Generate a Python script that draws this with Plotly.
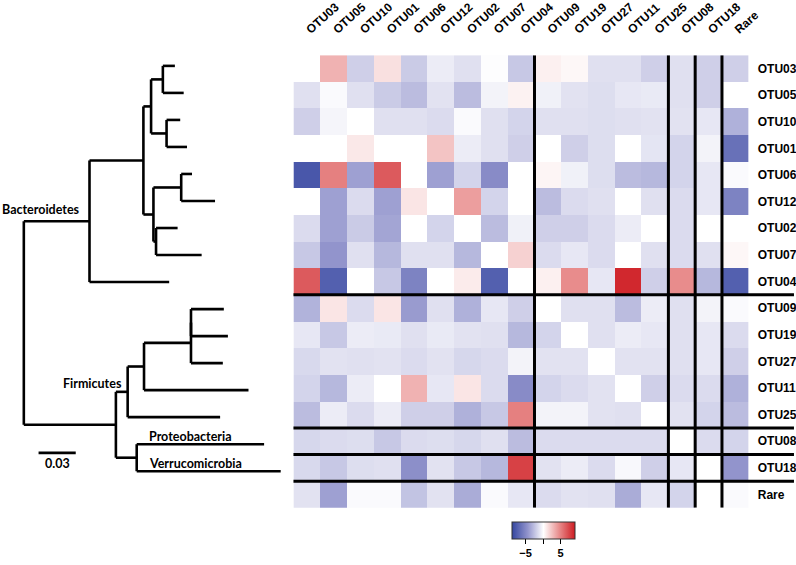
import plotly.graph_objects as go

labels = ["OTU03", "OTU05", "OTU10", "OTU01", "OTU06", "OTU12", "OTU02", "OTU07", "OTU04",
          "OTU09", "OTU19", "OTU27", "OTU11", "OTU25", "OTU08", "OTU18", "Rare"]

row_OTU03 = [0.0, 3.0, -2.0, 1.2, -2.2, -0.8, -1.3, -0.1, -2.3, 0.6, 0.3, -1.3, -1.3, -2.0, -1.3, -2.0, -2.0]
row_OTU05 = [-1.3, -0.2, -1.3, -2.2, -2.8, -1.2, -2.8, -0.5, 0.5, -0.6, -1.2, -1.4, -1.0, -0.9, -1.3, -2.0, 0.0]
row_OTU10 = [-2.0, -0.4, 0.0, -1.3, -1.3, -1.5, -0.2, -1.3, -1.8, -1.3, -1.3, -1.4, -1.3, -1.2, -1.2, -1.0, -3.3]
row_OTU01 = [0.0, 0.0, 0.9, 0.0, 0.0, 2.3, -0.8, -1.3, -2.0, 0.0, -2.0, -1.4, 0.0, -1.1, -1.8, -0.5, -6.5]
row_OTU06 = [-8.0, 5.0, -4.0, 6.5, 0.0, -4.0, -1.8, -5.0, 0.0, 0.4, -0.6, -1.4, -2.8, -3.0, -1.8, -1.0, -0.2]
row_OTU12 = [0.0, -4.0, -1.5, -4.0, 1.0, 0.0, 3.8, -1.8, 0.0, -2.8, -1.5, -1.3, 0.0, -1.3, -1.5, -1.0, -5.5]
row_OTU02 = [-1.5, -4.0, -2.2, -3.8, 0.0, -1.8, 0.0, -2.8, -0.6, -2.0, -2.0, -1.5, -0.8, 0.0, -1.5, 0.0, 0.0]
row_OTU07 = [-2.3, -4.5, -1.3, -3.0, -1.3, -1.3, -3.0, 0.0, 1.8, -1.5, -1.0, -1.5, 0.0, -1.3, -1.5, -1.3, 0.3]
row_OTU04 = [6.5, -7.5, 0.0, -2.3, -5.5, 0.0, 0.8, -7.5, 0.0, 0.6, 4.5, -1.0, 8.5, -2.0, 4.5, -3.0, -7.5]
row_OTU09 = [-3.2, 1.0, -1.5, 1.0, -4.2, -1.3, -3.3, -1.0, -2.0, 0.0, -1.3, -1.3, -2.8, -0.8, -1.3, -0.5, -0.2]
row_OTU19 = [-1.0, -2.3, -0.8, -0.9, -1.3, -0.9, -1.2, -1.3, -3.0, -1.8, 0.0, -1.3, -0.8, -1.0, -1.3, -1.0, -1.5]
row_OTU27 = [-1.6, -1.2, -1.3, -1.2, -1.5, -1.2, -1.7, -1.5, -0.5, -1.2, -1.2, 0.0, -1.2, -1.2, -1.3, -1.0, -2.0]
row_OTU11 = [-1.8, -3.0, -0.8, 0.0, 3.0, -1.0, 1.0, -1.5, -5.0, -1.8, -1.5, -1.2, 0.0, -2.0, -1.5, -1.5, -3.3]
row_OTU25 = [-2.8, -0.8, -1.5, -0.8, -2.0, -2.0, -3.3, -2.3, 5.0, -0.5, -0.5, -1.2, -1.3, 0.0, -1.2, -1.8, -2.8]
row_OTU08 = [-1.7, -1.5, -1.4, -2.3, -1.5, -1.4, -1.7, -1.3, -2.8, -1.5, -1.5, -1.5, -1.5, -1.5, 0.0, -1.5, -1.8]
row_OTU18 = [-1.6, -2.3, -1.4, -1.3, -4.8, -1.2, -2.3, -3.0, 7.5, -1.2, -0.8, -1.5, -0.3, -2.0, -1.0, 0.0, -4.5]
row_Rare = [-1.2, -4.0, -0.2, -0.2, -2.5, -1.2, -3.5, -0.2, -1.0, -1.5, -1.2, -1.3, -3.5, -1.0, -1.8, 0.0, -0.2]

z_rows = [row_OTU03, row_OTU05, row_OTU10, row_OTU01, row_OTU06, row_OTU12, row_OTU02, row_OTU07,
          row_OTU04, row_OTU09, row_OTU19, row_OTU27, row_OTU11, row_OTU25, row_OTU08, row_OTU18, row_Rare]

group_breaks = [9, 14, 15, 16]   # thick separators after these many rows/columns

colorbar_ticks = [-5, 0, 5]
colorbar_ticktext = ["\u22125", "", "5"]

newick = ("(((((OTU03:0.0097,OTU05:0.0168):0.0095,(OTU10:0.011,OTU01:0.0165):0.0125):0.0062,"
          "((OTU06:0.0087,OTU12:0.0273):0.0224,(OTU02:0.0174,OTU07:0.0368):0.0021):0.0081):0.0435,"
          "OTU04:0.0643)Bacteroidetes:0.053,"
          "(((((OTU09:0.0265,OTU19:0.0298):0,OTU27:0.0257):0.0379,OTU11:0.0843):0.0132,OTU25:0.0746)Firmicutes:0.0095,"
          "(OTU08:0.1028,OTU18:0.1162):0.0168):0.0743);")
leaf_phylum = {"OTU08": "Proteobacteria", "OTU18": "Verrucomicrobia"}
scale_len = 0.03


def parse_newick(s):
    pos = [0]

    def node():
        nd = {"children": [], "name": "", "len": 0.0}
        if s[pos[0]] == "(":
            pos[0] += 1
            nd["children"].append(node())
            while s[pos[0]] == ",":
                pos[0] += 1
                nd["children"].append(node())
            pos[0] += 1  # ')'
        name = ""
        while pos[0] < len(s) and s[pos[0]] not in ":,);":
            name += s[pos[0]]
            pos[0] += 1
        nd["name"] = name
        if pos[0] < len(s) and s[pos[0]] == ":":
            pos[0] += 1
            num = ""
            while s[pos[0]] not in ",);":
                num += s[pos[0]]
                pos[0] += 1
            nd["len"] = float(num)
        return nd

    return node()


tree = parse_newick(newick)
leaf_counter = [0]


def layout(nd, x):
    nd["x"] = x + nd["len"]
    if not nd["children"]:
        nd["y"] = leaf_counter[0]
        leaf_counter[0] += 1
    else:
        for c in nd["children"]:
            layout(c, nd["x"])
        nd["y"] = (nd["children"][0]["y"] + nd["children"][-1]["y"]) / 2


layout(tree, 0.0)
tx, ty = [], []
nodes = []


def segs(nd):
    nodes.append(nd)
    if nd["children"]:
        tx.extend([nd["x"], nd["x"], None])
        ty.extend([nd["children"][0]["y"], nd["children"][-1]["y"], None])
        for c in nd["children"]:
            c["parent_x"] = nd["x"]
            tx.extend([nd["x"], c["x"], None])
            ty.extend([c["y"], c["y"], None])
            segs(c)


segs(tree)

# ---- geometry: design in reference pixels (796 x 565) ----
REF_W, REF_H = 796, 565
W, H = 812, 565            # the capture is squeezed horizontally by 796/812
KX = W / REF_W


def px(xp):
    return xp / REF_W


def py(yp):
    return 1 - yp / REF_H


hx0, hx1, hy0, hy1 = 292, 745, 54.3, 507.7
n = len(labels)

fig = go.Figure()
colorscale = [[0.0, "rgb(52,70,160)"], [0.25, "rgb(146,148,204)"], [0.5, "rgb(255,255,255)"],
              [0.75, "rgb(232,140,140)"], [1.0, "rgb(206,28,34)"]]
fig.add_trace(go.Heatmap(
    z=z_rows, x=list(range(n)), y=list(range(n)), zmin=-9, zmax=9, colorscale=colorscale,
    xaxis="x", yaxis="y", hoverinfo="skip",
    colorbar=dict(orientation="h", x=px(540.3), xanchor="center", y=py(521.7), yanchor="top",
                  len=62.7 / REF_W, lenmode="fraction", thickness=17, xpad=0, ypad=0,
                  outlinewidth=1, outlinecolor="#333",
                  tickmode="array", tickvals=colorbar_ticks, ticktext=colorbar_ticktext,
                  ticks="outside", ticklen=5, tickwidth=1, tickcolor="black",
                  tickfont=dict(family="Liberation Sans", size=11, color="black", weight="bold")),
))

# tree
fig.add_trace(go.Scatter(x=tx, y=ty, mode="lines", xaxis="x2", yaxis="y2",
                         line=dict(color="black", width=2.6), hoverinfo="skip", showlegend=False))
sb_x0 = 0.0119
sb_y = 14.32
fig.add_trace(go.Scatter(x=[sb_x0, sb_x0 + scale_len], y=[sb_y, sb_y], mode="lines", xaxis="x2", yaxis="y2",
                         line=dict(color="black", width=2.6), hoverinfo="skip", showlegend=False))

tree_font = dict(family="Lato", size=12.5, color="black", weight="bold")
ann = []
ann.append(dict(x=sb_x0 + scale_len / 2, y=sb_y, xref="x2", yref="y2", text=f"{scale_len:.2f}",
                showarrow=False, xanchor="center", yanchor="middle", yshift=-10.5, font=tree_font))
for nd in nodes:
    if nd["name"] in ("Bacteroidetes", "Firmicutes"):
        shift = (-7, 12) if nd["name"] == "Bacteroidetes" else (-4, 8)
        ann.append(dict(x=nd["x"], y=nd["y"], xref="x2", yref="y2", text=nd["name"], showarrow=False,
                        xanchor="right", yanchor="middle", xshift=shift[0] * KX, yshift=shift[1],
                        font=tree_font))
    elif nd["name"] in leaf_phylum:
        ann.append(dict(x=nd["parent_x"], y=nd["y"], xref="x2", yref="y2", text=leaf_phylum[nd["name"]],
                        showarrow=False, xanchor="left", yanchor="middle", xshift=10 * KX, yshift=8,
                        font=tree_font))

shapes = []
for b in group_breaks:
    shapes.append(dict(type="line", xref="x", yref="y", x0=b - 0.5, x1=b - 0.5, y0=-0.5, y1=n - 0.5,
                       line=dict(color="black", width=3)))
    shapes.append(dict(type="line", xref="paper", yref="y", x0=px(hx0), x1=px(790), y0=b - 0.5, y1=b - 0.5,
                       line=dict(color="black", width=3)))

lab_font = dict(family="Liberation Sans", size=12, color="black", weight="bold")
tree_unit = 1233.0
root_px = 23.7
leaf0_px, leaf_sp = 65.0, 27.07

fig.update_layout(
    width=W, height=H, autosize=False, margin=dict(l=0, r=0, t=0, b=0),
    paper_bgcolor="white", plot_bgcolor="rgba(0,0,0,0)", showlegend=False,
    xaxis=dict(domain=[px(hx0), px(hx1)], range=[-0.5, n - 0.5], side="top", tickmode="array",
               tickvals=list(range(n)), ticktext=labels, tickangle=-42, ticks="", showgrid=False,
               zeroline=False, showline=False, tickfont=lab_font, ticklabelstandoff=16),
    yaxis=dict(domain=[py(hy1), py(hy0)], range=[n - 0.5, -0.5], side="right", tickmode="array",
               tickvals=list(range(n)), ticktext=labels, ticks="", showgrid=False, zeroline=False,
               showline=False, tickfont=lab_font, ticklabelstandoff=8),
    xaxis2=dict(domain=[0, 1], range=[(0 - root_px) / tree_unit, (REF_W - root_px) / tree_unit],
                visible=False, anchor="y2"),
    yaxis2=dict(domain=[0, 1], range=[(REF_H - leaf0_px) / leaf_sp, (0 - leaf0_px) / leaf_sp],
                visible=False, anchor="x2"),
    shapes=shapes, annotations=ann,
)

fig.write_html("out.html", config={"displayModeBar": False},
               post_script="document.body.style.margin='0';document.body.style.overflow='hidden';")
